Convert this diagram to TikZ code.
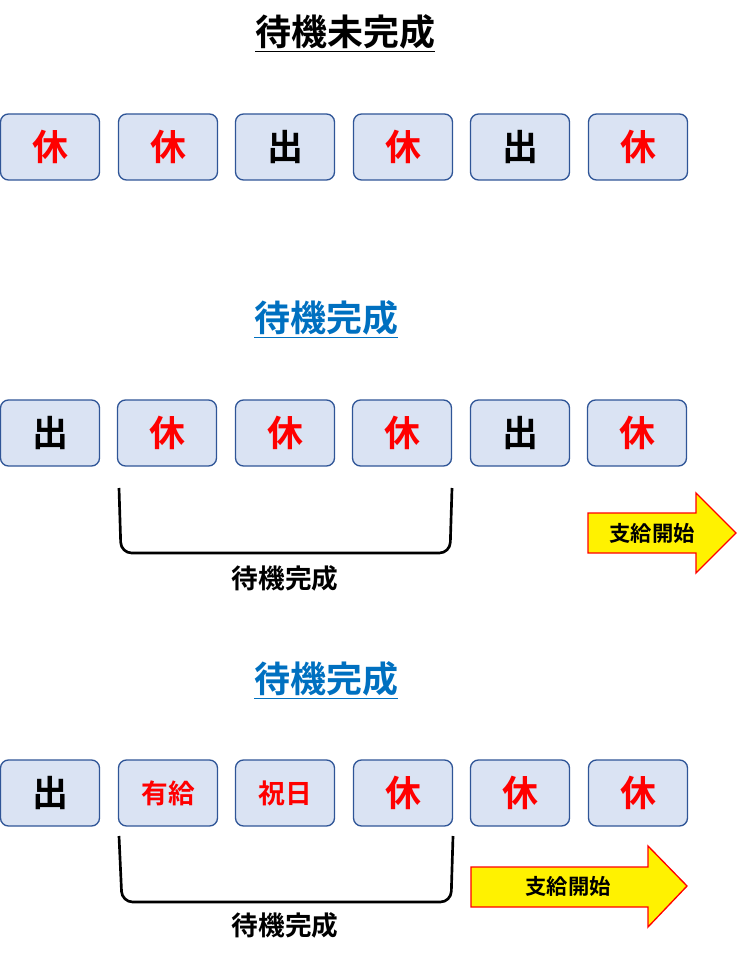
\documentclass[tikz,border=0pt]{standalone}
\usepackage{fontspec}
\newfontfamily\jp{Noto Sans CJK JP}[BoldFont={* Bold}]
\usetikzlibrary{positioning}
\definecolor{boxfill}{HTML}{DAE3F3}
\definecolor{boxline}{HTML}{2F5597}
\definecolor{titleblue}{HTML}{0070C0}
\tikzset{
  day/.style={draw=boxline, fill=boxfill, rounded corners=6pt, line width=1pt,
    minimum width=99*0.75pt, minimum height=66*0.75pt, inner sep=0pt,
    font=\jp\bfseries\fontsize{27}{30}\selectfont},
  rest/.style={day, text=red},
  work/.style={day, text=black},
  small/.style={day, text=red, font=\jp\bfseries\fontsize{20}{22}\selectfont},
  title/.style={font=\jp\bfseries\fontsize{27}{30}\selectfont},
  bracelabel/.style={font=\jp\bfseries\fontsize{20}{22}\selectfont},
  startarrow/.style={draw=red, fill=yellow, line width=1pt},
  arrowtext/.style={font=\jp\bfseries\fontsize{16}{18}\selectfont},
}
\begin{document}
\begin{tikzpicture}[x=0.75pt, y=-0.75pt]
  \useasboundingbox (0,0) rectangle (738,962);
  % Row 1
  \node[title] (t1) at (345,33) {\underline{待機未完成}};
  \node[rest] (a1) at (50,147) {休};
  \node[rest] (a2) at (168,147) {休};
  \node[work] (a3) at (285,147) {出};
  \node[rest] (a4) at (403,147) {休};
  \node[work] (a5) at (520,147) {出};
  \node[rest] (a6) at (638,147) {休};
  % Row 2
  \node[title, text=titleblue] (t2) at (326,319) {\underline{待機完成}};
  \node[work] (b1) at (50,433) {出};
  \node[rest] (b2) at (167,433) {休};
  \node[rest] (b3) at (285,433) {休};
  \node[rest] (b4) at (402,433) {休};
  \node[work] (b5) at (520,433) {出};
  \node[rest] (b6) at (637,433) {休};
  \draw[line width=2pt, rounded corners=8pt] (119,488) -- (121,553) -- (450,553) -- (452,488);
  \node[bracelabel] (l2) at (285,578) {待機完成};
  \draw[startarrow] (588,513) -- (696,513) -- (696,493) -- (736,533) -- (696,573)
    -- (696,553) -- (588,553) -- cycle;
  \node[arrowtext] (s2) at (652,533) {支給開始};
  % Row 3
  \node[title, text=titleblue] (t3) at (326,680) {\underline{待機完成}};
  \node[work] (c1) at (50,793) {出};
  \node[small] (c2) at (168,793) {有給};
  \node[small] (c3) at (285,793) {祝日};
  \node[rest] (c4) at (403,793) {休};
  \node[rest] (c5) at (520,793) {休};
  \node[rest] (c6) at (638,793) {休};
  \draw[line width=2pt, rounded corners=8pt] (119,836) -- (122,902) -- (451,902) -- (453,836);
  \node[bracelabel] (l3) at (285,925) {待機完成};
  \draw[startarrow] (471,867) -- (648,867) -- (648,846) -- (687,886) -- (648,927)
    -- (648,907) -- (471,907) -- cycle;
  \node[arrowtext] (s3) at (568,886) {支給開始};
\end{tikzpicture}
\end{document}
